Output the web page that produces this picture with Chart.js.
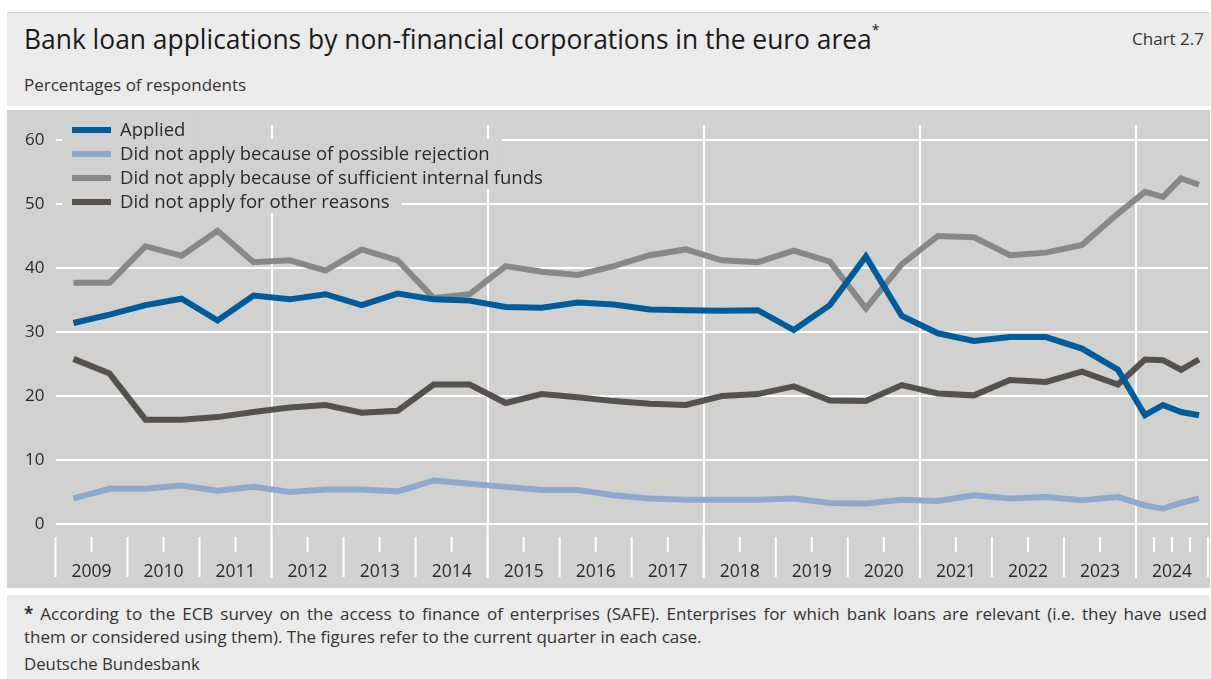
<!DOCTYPE html>
<html>
<head>
<meta charset="utf-8">
<title>Bank loan applications</title>
<script src="https://cdn.jsdelivr.net/npm/chart.js@4.4.1/dist/chart.umd.min.js"></script>
<style>
  body { margin: 0; background: #fff; font-family: "Open Sans", "Noto Sans", sans-serif; color: #222; }
  .box { position: absolute; left: 7px; width: 1203px; background: #ebebeb; }
  #head { top: 12px; height: 93px; border-top: 1px solid #d8d8d8; }
  #panel { top: 110px; height: 478px; background: #d1d1d0; }
  #foot { top: 595px; height: 84px; }
  .t { position: absolute; white-space: nowrap; line-height: 1; }
  #title { left: 17px; top: 13px; font-size: 26.4px; color: #1a1a1a; }
  #title sup { font-size: 14px; position: relative; top: -4px; }
  #num { right: 6px; top: 17px; font-size: 17px; color: #333; }
  #unit { left: 17px; top: 63px; font-size: 17px; color: #333; }
  #note1 { left: 17px; top: 10px; width: 1183px; font-size: 17px; color: #333;
           text-align: justify; text-align-last: justify; }
  #note2 { left: 17px; top: 33px; font-size: 17px; color: #333; }
  #src { left: 17px; top: 61px; font-size: 16.8px; color: #333; }
  canvas { position: absolute; left: 0; top: 0; }
</style>
</head>
<body>
<div class="box" id="head">
  <div class="t" id="title">Bank loan applications by non-financial corporations in the euro area<sup>*</sup></div>
  <div class="t" id="num">Chart 2.7</div>
  <div class="t" id="unit">Percentages of respondents</div>
</div>
<div class="box" id="panel"><canvas id="chart" width="1203" height="478"></canvas></div>
<div class="box" id="foot">
  <div class="t" id="note1"><b>*</b> According to the ECB survey on the access to finance of enterprises (SAFE). Enterprises for which bank loans are relevant (i.e. they have used</div>
  <div class="t" id="note2">them or considered using them). The figures refer to the current quarter in each case.</div>
  <div class="t" id="src">Deutsche Bundesbank</div>
</div>
<script>
// survey rounds: half-yearly up to 2023, quarterly in 2024
const surveyRounds = [
  '2009 H1', '2009 H2', '2010 H1', '2010 H2', '2011 H1', '2011 H2',
  '2012 H1', '2012 H2', '2013 H1', '2013 H2', '2014 H1', '2014 H2',
  '2015 H1', '2015 H2', '2016 H1', '2016 H2', '2017 H1', '2017 H2',
  '2018 H1', '2018 H2', '2019 H1', '2019 H2', '2020 H1', '2020 H2',
  '2021 H1', '2021 H2', '2022 H1', '2022 H2', '2023 H1', '2023 H2',
  '2024 Q1', '2024 Q2', '2024 Q3', '2024 Q4'
];

const applied = [
  31.4, 32.7, 34.2, 35.2, 31.8, 35.7, 35.1, 35.9, 34.2, 36.0, 35.1, 34.9,
  33.9, 33.8, 34.6, 34.3, 33.5, 33.4, 33.3, 33.4, 30.3, 34.2, 41.8, 32.5,
  29.8, 28.6, 29.2, 29.2, 27.4, 24.1, 17.0, 18.6, 17.5, 17.0
];
const possibleRejection = [
  4.0, 5.5, 5.5, 6.0, 5.2, 5.8, 5.0, 5.4, 5.4, 5.1, 6.8, 6.3,
  5.8, 5.3, 5.3, 4.5, 4.0, 3.8, 3.8, 3.8, 4.0, 3.3, 3.2, 3.8,
  3.6, 4.5, 4.0, 4.2, 3.7, 4.2, 2.9, 2.4, 3.3, 4.0
];
const internalFunds = [
  37.7, 37.7, 43.4, 41.9, 45.8, 40.9, 41.2, 39.6, 42.9, 41.2, 35.3, 35.9,
  40.3, 39.4, 38.9, 40.3, 42.0, 42.9, 41.2, 40.9, 42.7, 41.0, 33.7, 40.6,
  45.0, 44.8, 42.0, 42.4, 43.6, 48.5, 51.9, 51.1, 54.0, 53.0
];
const otherReasons = [
  25.8, 23.5, 16.3, 16.3, 16.7, 17.5, 18.2, 18.6, 17.4, 17.7, 21.8, 21.8,
  18.9, 20.3, 19.8, 19.2, 18.8, 18.6, 20.0, 20.3, 21.5, 19.3, 19.2, 21.7,
  20.4, 20.1, 22.5, 22.2, 23.8, 21.8, 25.7, 25.6, 24.1, 25.7
];

const yearLabels = ['2009', '2010', '2011', '2012', '2013', '2014', '2015', '2016',
                    '2017', '2018', '2019', '2020', '2021', '2022', '2023', '2024'];
const gridYears = [2012, 2015, 2018, 2021, 2024];
const yTicks = [0, 10, 20, 30, 40, 50, 60];

const panelColor = '#d1d1d0';
const textColor = '#2a2a2a';
const fontFamily = '"Open Sans", "Noto Sans", sans-serif';

// start and end of a survey round in decimal years
function roundSpan(label) {
  const [yr, p] = label.split(' ');
  const n = +p.slice(1);
  const len = p[0] === 'H' ? 0.5 : 0.25;
  const start = +yr + (n - 1) * len;
  return [start, start + len];
}
const roundMid = l => { const [a, b] = roundSpan(l); return (a + b) / 2; };
const midTicks = surveyRounds.map(l => roundSpan(l)[0]).filter(v => v % 1 !== 0);

const series = (data) => data.map((v, i) => ({ x: roundMid(surveyRounds[i]), y: v }));

// white ticks and year labels below the zero line
const axisMarks = {
  id: 'axisMarks',
  beforeDatasetsDraw(chart) {
    const { ctx, chartArea: area, scales: { x } } = chart;
    const base = area.bottom;
    const line = (px, y0, y1) => {
      ctx.beginPath(); ctx.moveTo(px, y0); ctx.lineTo(px, y1); ctx.stroke();
    };
    ctx.save();
    ctx.strokeStyle = '#fff';
    ctx.lineWidth = 2;
    gridYears.forEach(yr => line(x.getPixelForValue(yr), base, base + 54));
    for (let yr = +yearLabels[0]; yr <= +yearLabels[yearLabels.length - 1] + 1; yr++) {
      line(x.getPixelForValue(yr), base + 13, base + 53);
    }
    midTicks.forEach(v => line(x.getPixelForValue(v), base + 13, base + 28));
    ctx.fillStyle = textColor;
    ctx.font = '17.5px ' + fontFamily;
    ctx.textAlign = 'center';
    ctx.textBaseline = 'middle';
    yearLabels.forEach(l => ctx.fillText(l, x.getPixelForValue(+l + 0.5), base + 48));
    ctx.restore();
  }
};

// legend in the top left corner of the plot, blanking the grid behind it
const legendBox = {
  id: 'legendBox',
  beforeDatasetsDraw(chart) {
    const { ctx, chartArea: area } = chart;
    ctx.save();
    ctx.font = '18.5px ' + fontFamily;
    ctx.textBaseline = 'middle';
    chart.data.datasets.forEach((ds, i) => {
      const cy = area.top + 5 + i * 24;
      const tw = ctx.measureText(ds.label).width;
      ctx.fillStyle = panelColor;
      ctx.fillRect(area.left + 6.5, cy - 15, 58 + tw + 12, 26);
      ctx.fillStyle = ds.borderColor;
      ctx.fillRect(area.left + 16.5, cy - 3, 39, 6);
      ctx.fillStyle = textColor;
      ctx.fillText(ds.label, area.left + 64.5, cy + 1);
    });
    ctx.restore();
  }
};

const line = (label, data, color) => ({
  label, data: series(data), borderColor: color, backgroundColor: color,
  borderWidth: 6, pointRadius: 0, tension: 0, fill: false
});

new Chart(document.getElementById('chart'), {
  type: 'line',
  data: {
    datasets: [
      line('Applied', applied, '#005b9a'),
      line('Did not apply because of possible rejection', possibleRejection, '#8ca8cd'),
      line('Did not apply because of sufficient internal funds', internalFunds, '#888887'),
      line('Did not apply for other reasons', otherReasons, '#54514f')
    ]
  },
  options: {
    responsive: false,
    devicePixelRatio: 1,
    animation: false,
    layout: { padding: { top: 15, right: 2, left: 0, bottom: 0 } },
    plugins: { legend: { display: false }, tooltip: { enabled: false } },
    scales: {
      x: {
        type: 'linear', min: 2009, max: 2025,
        afterBuildTicks: s => { s.ticks = gridYears.map(v => ({ value: v })); },
        afterFit: s => { s.height = 64; s.paddingLeft = 0; s.paddingRight = 0; },
        grid: { color: '#fff', lineWidth: 2, drawTicks: false },
        border: { display: false },
        ticks: { display: false }
      },
      y: {
        min: 0, max: 62.34,
        afterBuildTicks: s => { s.ticks = yTicks.map(v => ({ value: v })); },
        afterFit: s => { s.width = 48.5; s.paddingTop = 0; s.paddingBottom = 0; },
        grid: { color: '#fff', lineWidth: 2, drawTicks: false },
        border: { display: false },
        ticks: { padding: 11, color: textColor, font: { size: 17, family: fontFamily } }
      }
    }
  },
  plugins: [axisMarks, legendBox]
});
</script>
</body>
</html>
